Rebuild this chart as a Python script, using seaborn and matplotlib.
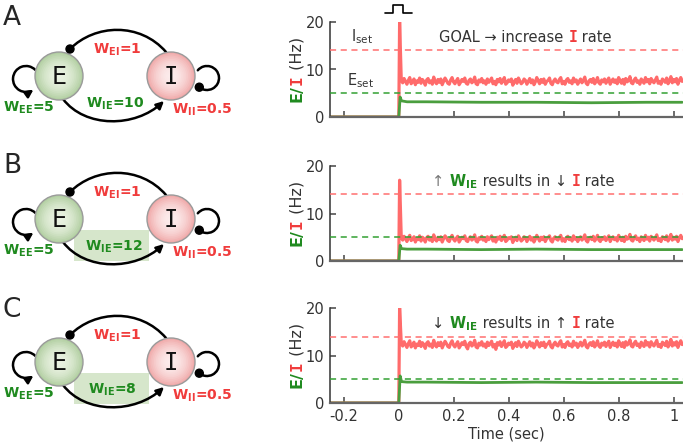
import numpy as np
import matplotlib
matplotlib.use("Agg")
import matplotlib.pyplot as plt
import matplotlib.colors as mcolors
import seaborn as sns
from matplotlib.patches import Circle, FancyArrowPatch, Rectangle
from matplotlib.path import Path
from matplotlib.offsetbox import TextArea, HPacker, AnchoredOffsetbox

sns.set_style("ticks")
plt.rcParams["font.family"] = ["DejaVu Sans"]
plt.rcParams["mathtext.fontset"] = "dejavusans"

# ---- data ----
panel_letters = ["A", "B", "C"]
w_ie = ["10", "12", "8"]
w_ee, w_ei, w_ii = "5", "1", "0.5"
e_set, i_set = 5, 14
stim_t = [-0.022, 0.015]

# rate traces (Hz): pre-stimulus, onset spike, then noisy steady state
i_head_t = [-0.25, 0.0, 0.003]
i_peak = [20, 17, 20]
i_A = [7.8, 7.2, 8.1, 7.5, 6.9, 7.7, 8.3, 7.0, 7.4, 8.0, 6.8, 7.6, 7.3, 8.2, 7.1, 7.9, 7.5, 6.7, 7.8, 8.1, 7.2, 7.6, 6.9, 8.4, 7.4, 7.0, 7.9, 7.3, 8.0, 6.8,
       7.5, 8.2, 7.7, 7.1, 6.9, 7.8, 8.3, 7.4, 7.0, 7.6, 8.1, 6.8, 7.3, 7.9, 7.5, 8.2, 7.1, 6.9, 7.7, 8.0, 7.2, 7.5, 8.4, 7.0, 6.8, 7.8, 7.4, 8.1, 7.2, 7.6,
       6.9, 8.0, 7.3, 7.7, 8.2, 7.0, 7.5, 6.8, 7.9, 7.4, 8.1, 7.1, 7.6, 8.3, 6.9, 7.2, 7.8, 7.5, 8.0, 6.7, 7.4, 7.9, 7.1, 8.2, 7.6, 7.0, 7.3, 8.0, 7.7, 6.9,
       7.5, 8.1, 7.2, 7.8, 6.8, 7.4, 8.3, 7.6, 7.0, 7.9, 7.3, 8.0, 6.9, 7.5, 7.7, 8.2, 7.1, 6.8, 7.6, 8.0, 7.4, 7.2, 7.9, 8.3, 7.0, 7.5, 6.9, 7.8, 8.1, 7.3,
       7.6, 7.0, 8.2, 7.4, 7.8, 6.9, 7.5, 8.0, 7.2, 7.7, 8.4, 7.1, 6.8, 7.6, 7.9, 7.3, 8.1, 7.0, 7.5, 8.3, 7.2, 6.9, 7.8, 7.4, 8.0, 7.1, 7.7, 8.2, 6.9, 7.5,
       8.0, 7.3, 7.8, 7.0, 8.3, 7.6, 7.1, 7.9, 6.9, 8.1, 7.4, 7.7, 8.5, 7.2, 7.0, 7.8, 8.2, 7.3, 7.6, 6.9, 8.0, 7.5, 7.1, 8.3, 7.4, 7.9, 7.0, 8.1, 7.6, 7.2,
       7.8, 8.4, 7.1, 7.5, 6.9, 8.0, 7.7, 7.3, 8.2, 7.0, 7.6, 8.5, 7.2, 7.9, 7.4, 8.1, 6.9, 7.7, 8.3, 7.5]
i_B = [4.9, 4.4, 5.2, 4.7, 4.1, 4.8, 5.4, 4.3, 4.6, 5.1, 4.0, 4.7, 4.5, 5.3, 4.2, 5.0, 4.7, 4.0, 4.9, 5.2, 4.4, 4.8, 4.1, 5.5, 4.6, 4.2, 5.0, 4.5, 5.1, 4.0,
       4.7, 5.3, 4.9, 4.3, 4.1, 4.9, 5.4, 4.6, 4.2, 4.8, 5.2, 4.0, 4.5, 5.0, 4.7, 5.3, 4.3, 4.1, 4.8, 5.1, 4.4, 4.7, 5.5, 4.2, 4.0, 4.9, 4.6, 5.2, 4.4, 4.8,
       4.1, 5.1, 4.5, 4.9, 5.3, 4.2, 4.7, 4.0, 5.0, 4.6, 5.2, 4.3, 4.8, 5.4, 4.1, 4.4, 4.9, 4.7, 5.1, 3.9, 4.6, 5.0, 4.3, 5.3, 4.8, 4.2, 4.5, 5.1, 4.9, 4.1,
       4.7, 5.2, 4.4, 4.9, 4.0, 4.6, 5.4, 4.8, 4.2, 5.0, 4.5, 5.1, 4.1, 4.7, 4.9, 5.3, 4.3, 4.0, 4.8, 5.1, 4.6, 4.4, 5.0, 5.4, 4.2, 4.7, 4.1, 4.9, 5.2, 4.5,
       4.8, 4.2, 5.3, 4.6, 4.9, 4.1, 4.7, 5.1, 4.4, 4.8, 5.5, 4.3, 4.0, 4.8, 5.0, 4.5, 5.2, 4.2, 4.7, 5.4, 4.4, 4.1, 4.9, 4.6, 5.1, 4.3, 4.8, 5.3, 4.1, 4.7,
       5.1, 4.5, 4.9, 4.2, 5.4, 4.8, 4.3, 5.0, 4.1, 5.2, 4.6, 4.8, 5.6, 4.4, 4.2, 4.9, 5.3, 4.5, 4.8, 4.1, 5.1, 4.7, 4.3, 5.4, 4.6, 5.0, 4.2, 5.2, 4.8, 4.4,
       4.9, 5.5, 4.3, 4.7, 4.1, 5.1, 4.9, 4.5, 5.3, 4.2, 4.8, 5.6, 4.4, 5.0, 4.6, 5.2, 4.1, 4.9, 5.4, 4.7]
i_C = [12.6, 12.0, 12.9, 12.3, 11.7, 12.5, 13.1, 11.8, 12.2, 12.8, 11.6, 12.4, 12.1, 13.0, 11.9, 12.7, 12.3, 11.5, 12.6, 12.9, 12.0, 12.4, 11.7, 13.2, 12.2, 11.8, 12.7, 12.1, 12.8, 11.6,
       12.3, 13.0, 12.5, 11.9, 11.7, 12.6, 13.1, 12.2, 11.8, 12.4, 12.9, 11.6, 12.1, 12.7, 12.3, 13.0, 11.9, 11.4, 12.5, 12.8, 12.0, 12.3, 13.2, 11.8, 11.6, 12.6, 12.2, 12.9, 12.0, 12.4,
       11.7, 12.8, 12.1, 12.5, 13.0, 11.8, 12.3, 11.3, 12.7, 12.2, 12.9, 11.9, 12.4, 13.1, 11.7, 12.0, 12.6, 12.3, 12.8, 11.5, 12.2, 12.7, 11.9, 13.0, 12.4, 11.8, 12.1, 12.8, 12.5, 11.7,
       12.3, 12.9, 12.0, 12.6, 11.6, 12.2, 13.1, 12.4, 11.8, 12.7, 12.1, 12.8, 11.7, 12.3, 12.5, 13.0, 11.9, 11.6, 12.4, 12.8, 12.2, 12.0, 12.7, 13.1, 11.8, 12.3, 11.7, 12.6, 12.9, 12.1,
       12.4, 11.8, 13.0, 12.2, 12.6, 11.7, 12.3, 12.8, 12.0, 12.5, 13.2, 11.9, 11.6, 12.4, 12.7, 12.1, 12.9, 11.8, 12.3, 13.1, 12.0, 11.7, 12.6, 12.2, 12.8, 11.9, 12.5, 13.0, 11.7, 12.3,
       12.8, 12.1, 12.6, 11.8, 13.1, 12.4, 11.9, 12.7, 11.7, 12.9, 12.2, 12.5, 13.3, 12.0, 11.8, 12.6, 13.0, 12.1, 12.4, 11.7, 12.8, 12.3, 11.9, 13.1, 12.2, 12.7, 11.8, 12.9, 12.4, 12.0,
       12.6, 13.2, 11.9, 12.3, 11.7, 12.8, 12.5, 12.1, 13.0, 11.8, 12.4, 13.4, 12.0, 12.7, 12.2, 12.9, 11.7, 12.5, 13.1, 12.3]
i_noise = [i_A, i_B, i_C]

e_t = [-0.25, 0.0, 0.005, 0.010, 0.03, 0.1, 0.3, 0.5, 0.7, 0.9, 1.03]
e_A = [0, 0, 4.2, 3.4, 3.2, 3.2, 3.1, 3.1, 3.0, 3.1, 3.1]
e_B = [0, 0, 3.3, 2.6, 2.5, 2.5, 2.4, 2.5, 2.4, 2.4, 2.4]
e_C = [0, 0, 5.7, 4.5, 4.4, 4.4, 4.3, 4.4, 4.3, 4.3, 4.3]
e_vals = [e_A, e_B, e_C]

# ---- styling ----
RED = "#ff6b6b"
GREEN = "#4a9e3e"
DARKGREEN = "#3a6b1c"
LRED = "#f03c3c"
LGREEN = "#1f8a1f"
GRAY = "#333333"

fig = plt.figure(figsize=(6.83, 4.44), dpi=100)

# full-figure axes in pixel coordinates for the network diagrams
axd = fig.add_axes([0, 0, 1, 1], zorder=0)
axd.set_xlim(0, 683)
axd.set_ylim(444, 0)
axd.axis("off")

row_y = [76, 219, 362]
letter_y = [18, 166, 310]
ie_x = [115, 114, 112]
ex, ix, R = 59, 171, 24


def mix(c1, c2, f):
    a, b = np.array(mcolors.to_rgb(c1)), np.array(mcolors.to_rgb(c2))
    return a * (1 - f) + b * f


def node(cx, cy, label, inner, outer, family):
    for k in range(14, 0, -1):
        f = k / 14
        axd.add_patch(Circle((cx, cy), R * f, color=mix(inner, outer, f ** 2), lw=0))
    axd.add_patch(Circle((cx, cy), R, fill=False, ec="#9a9a9a", lw=1.0))
    axd.text(cx, cy + 1, label, ha="center", va="center", fontsize=17,
             family=family, color="#111111")


def curve(verts, style):
    codes = [Path.MOVETO] + [Path.CURVE4] * (len(verts) - 1)
    p = FancyArrowPatch(path=Path(verts, codes), arrowstyle=style,
                        mutation_scale=11, lw=1.8, color="black")
    axd.add_patch(p)


def loop(cx, cy, r, a0, a1, reverse, style):
    arc = Path.arc(a0, a1)
    v = arc.vertices.copy()
    v[:, 0] = cx + r * v[:, 0]
    v[:, 1] = cy - r * v[:, 1]
    codes = arc.codes
    if reverse:
        v = v[::-1]
        codes = [Path.MOVETO] + [Path.CURVE4] * (len(v) - 1)
    p = FancyArrowPatch(path=Path(v, codes), arrowstyle=style,
                        mutation_scale=11, lw=1.8, color="black")
    axd.add_patch(p)
    return v[-1]


def wlabel(x, y, sub, val, color):
    axd.text(x, y, r"$\mathbf{W_{" + sub + "}}$=" + val, color=color, weight="bold",
             fontsize=10, ha="center", va="center")


for k, cy in enumerate(row_y):
    axd.text(12, letter_y[k], panel_letters[k], ha="center", va="center", fontsize=19)
    if k > 0:
        axd.add_patch(Rectangle((74, cy + 11), 75, 31, color="#d6e6cb", lw=0, zorder=0))
    # inhibitory arc I -> E (top)
    curve([(166, cy - 24), (140, cy - 54), (95, cy - 52), (70, cy - 27)], "-")
    axd.add_patch(Circle((70, cy - 27), 4, color="black", zorder=3))
    # excitatory arc E -> I (bottom)
    curve([(63, cy + 23), (85, cy + 52), (135, cy + 52), (164, cy + 25)], "-|>")
    # self loops
    loop(26, cy + 3, 13, 45, 305, False, "-|>")
    end = loop(207, cy + 2, 12, -130, 140, True, "-")
    axd.add_patch(Circle((end[0], end[1]), 4, color="black", zorder=3))
    node(ex, cy, "E", "#eaf2e2", "#b2cfa2", "DejaVu Sans")
    node(ix, cy, "I", "#fcecec", "#f0aaaa", "DejaVu Sans Mono")
    wlabel(117, cy - 26, "EI", w_ei, LRED)
    wlabel(ie_x[k], cy + 28, "IE", w_ie[k], LGREEN)
    wlabel(29, cy + 32, "EE", w_ee, LGREEN)
    wlabel(202, cy + 34, "II", w_ii, LRED)

# ---- time series panels ----
ax_bottoms = [1 - 117 / 444, 1 - 261 / 444, 1 - 403 / 444]
ax_h = 95 / 444
ax_left = 330 / 683
ax_w = 1 - ax_left

IFONT = {"family": "DejaVu Sans Mono", "weight": "bold"}
titles = [
    [("GOAL → increase ", GRAY, {}), ("I", LRED, IFONT), (" rate", GRAY, {})],
    [("↑ ", "#777777", {}), (r"$\mathbf{W_{IE}}$", LGREEN, {}), (" results in ↓ ", GRAY, {}),
     ("I", LRED, IFONT), (" rate", GRAY, {})],
    [("↓ ", GRAY, {}), (r"$\mathbf{W_{IE}}$", LGREEN, {}), (" results in ↑ ", GRAY, {}),
     ("I", LRED, IFONT), (" rate", GRAY, {})],
]
title_x = [0.31, 0.29, 0.29]

for k in range(3):
    ax = fig.add_axes([ax_left, ax_bottoms[k], ax_w, ax_h], zorder=2)
    ax.patch.set_alpha(0)
    t_i = i_head_t + list(np.linspace(0.009, 1.03, len(i_noise[k])))
    v_i = [0, 0, i_peak[k]] + i_noise[k]
    sns.lineplot(x=t_i, y=v_i, ax=ax, color=RED, linewidth=2.3, estimator=None, sort=False)
    sns.lineplot(x=e_t, y=e_vals[k], ax=ax, color=GREEN, linewidth=2, estimator=None, sort=False)
    sns.lineplot(x=e_t[:2], y=e_vals[k][:2], ax=ax, color=DARKGREEN, linewidth=2.2, estimator=None)
    ax.axhline(i_set, color="#ff6f6f", ls=(0, (4, 3)), lw=1.1, zorder=5)
    ax.axhline(e_set, color="#33a033", ls=(0, (4, 3)), lw=1.1, zorder=5)

    ax.set_xlim(-0.25, 1.033)
    ax.set_ylim(0, 20)
    ax.set_yticks([0, 10, 20])
    ax.set_xticks([-0.2, 0, 0.2, 0.4, 0.6, 0.8, 1])
    ax.set_xticklabels(["-0.2", "0", "0.2", "0.4", "0.6", "0.8", "1"])
    ax.tick_params(direction="in", length=4, width=1.1, labelsize=10.5,
                   colors="#444444", labelcolor=GRAY, pad=4)
    if k < 2:
        ax.tick_params(axis="x", labelbottom=False)
    else:
        ax.set_xlabel("Time (sec)", fontsize=10.5, color=GRAY, labelpad=2)
    ax.set_ylabel("")
    sns.despine(ax=ax)
    ax.spines["left"].set_color("#333333")
    ax.spines["left"].set_linewidth(1.1)
    ax.spines["bottom"].set_color("#666666")
    ax.spines["bottom"].set_linewidth(1.6)

    # rotated two-colour y label
    t = ax.text(-0.093, 0.16, "E/", color=LGREEN, rotation=90, fontsize=11.5,
                weight="bold", ha="center", va="bottom", transform=ax.transAxes)
    t = ax.annotate("I", xy=(0.5, 1), xycoords=t, color=LRED, rotation=90, fontsize=11.5,
                    weight="bold", family="DejaVu Sans Mono", ha="center", va="bottom")
    ax.annotate(" (Hz)", xy=(0.5, 1), xycoords=t, color=GRAY, rotation=90, fontsize=11.5,
                ha="center", va="bottom")

    # title line
    parts = [TextArea(s, textprops=dict(color=c, fontsize=10.5, **kw)) for s, c, kw in titles[k]]
    box = HPacker(children=parts, align="baseline", pad=0, sep=0)
    ab = AnchoredOffsetbox(loc="center left", child=box, pad=0, borderpad=0, frameon=False,
                           bbox_to_anchor=(title_x[k], 0.84), bbox_transform=ax.transAxes)
    ax.add_artist(ab)

    if k == 0:
        ax.text(-0.135, 16.9, r"I$_{\rm set}$", fontsize=10.5, color=GRAY, ha="center", va="center")
        ax.text(-0.14, 7.7, r"E$_{\rm set}$", fontsize=10.5, color=GRAY, ha="center", va="center")
        sx = [stim_t[0] - 0.028, stim_t[0], stim_t[0], stim_t[1], stim_t[1], stim_t[1] + 0.032]
        sy = [21.8, 21.8, 23.6, 23.6, 21.8, 21.8]
        ax.plot(sx, sy, color="black", lw=1.2, clip_on=False)

fig.savefig("out.png", dpi=100)
